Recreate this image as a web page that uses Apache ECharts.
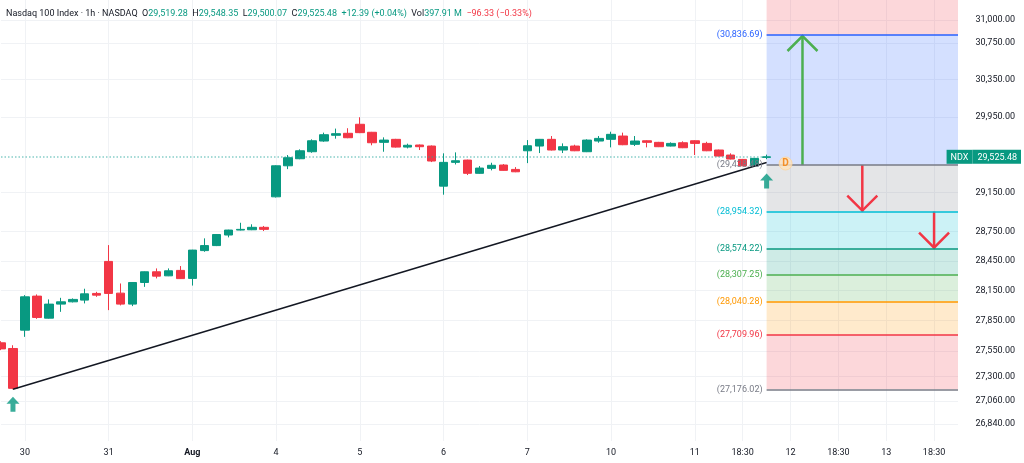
<!DOCTYPE html>
<html><head><meta charset="utf-8">
<script src="https://cdn.jsdelivr.net/npm/echarts@6/dist/echarts.min.js"></script>
<style>html,body{margin:0;padding:0;background:#fff}#c{width:1024px;height:463px}</style>
</head><body><div id="c"></div>
<script>
// ---------- data ----------
const xLabels = [
  '', '',
  '30', '', '', '', '', '', '',
  '31', '', '', '', '', '', '',
  'Aug', '', '', '', '', '', '',
  '4', '', '', '', '', '', '',
  '5', '', '', '', '', '', '',
  '6', '', '', '', '', '', '',
  '7', '', '', '', '', '', '',
  '10', '', '', '', '', '', '',
  '11', '', '', '', '18:30', '', '', '',
  '12', '', '', '', '18:30', '', '', '',
  '13', '', '', '', '18:30', '', ''
];
const open = [
  27630, 27574, 27755, 28094, 27874, 28014, 28037, 28054, 28121, 28444,
  28124, 28014, 28231, 28339, 28298, 28353, 28272, 28554, 28605, 28713,
  28764, 28767, 28792, 29107, 29431, 29505, 29579, 29692, 29753, 29774,
  29870, 29785, 29678, 29710, 29628, 29650, 29639, 29218, 29467, 29491,
  29352, 29404, 29439, 29393, 29589, 29639, 29710, 29597, 29639, 29579,
  29692, 29710, 29745, 29657, 29695, 29678, 29639, 29674, 29695, 29667,
  29597, 29544, 29498, 29431, 29519.28];
const close = [
  27570, 27185, 28087, 27881, 28014, 28037, 28061, 28117, 28104, 28121,
  28014, 28231, 28339, 28295, 28349, 28270, 28559, 28605, 28718, 28764,
  28771, 28792, 28771, 29431, 29516, 29589, 29695, 29759, 29770, 29727,
  29781, 29674, 29702, 29628, 29647, 29632, 29481, 29467, 29484, 29352,
  29407, 29436, 29383, 29368, 29642, 29710, 29597, 29632, 29589, 29702,
  29720, 29763, 29653, 29692, 29678, 29632, 29667, 29621, 29667, 29589,
  29533, 29502, 29431, 29509, 29525.48];
const low = [
  27558, 27176.02, 27689, 27867, 27870, 27937, 28031, 28021, 28087, 27954,
  28001, 27994, 28187, 28272, 28295, 28266, 28200, 28542, 28600, 28689,
  28760, 28763, 28754, 29100, 29396, 29500, 29568, 29684, 29717, 29722,
  29776, 29647, 29579, 29623, 29614, 29597, 29470, 29129, 29445, 29334,
  29348, 29383, 29380, 29364, 29459, 29565, 29592, 29565, 29585, 29575,
  29674, 29625, 29648, 29639, 29625, 29628, 29635, 29617, 29544, 29585,
  29530, 29498, 29428, 29428, 29500.07];
const high = [
  27646, 27606, 28104, 28111, 28061, 28077, 28071, 28168, 28137, 28610,
  28221, 28235, 28342, 28373, 28373, 28397, 28562, 28679, 28722, 28767,
  28839, 28823, 28806, 29436, 29544, 29604, 29710, 29781, 29824, 29828,
  29945, 29789, 29731, 29715, 29664, 29655, 29645, 29562, 29572, 29495,
  29428, 29463, 29449, 29417, 29702, 29714, 29745, 29667, 29653, 29710,
  29745, 29791, 29781, 29745, 29700, 29683, 29678, 29689, 29700, 29684,
  29601, 29562, 29502, 29512, 29548.35];

const priceTicks = [31000, 30750, 30350, 29950, 29150, 28750, 28450, 28150, 27850, 27550, 27300, 27060, 26840];
const yMin = 26679, yMax = 31224;
const lastPrice = 29525.48;
const symbolName = 'NDX';

// Fibonacci levels (2.618, 1.618, 1, 0.786, 0.618, 0.5, 0.382, 0.236, 0)
const fibLevels = [33099.14, 30836.69, 29438.48, 28954.32, 28574.22, 28307.25, 28040.28, 27709.96, 27176.02];
const fibColors = ['#f23645', '#2962ff', '#787b86', '#00bcd4', '#089981', '#4caf50', '#ff9800', '#f23645', '#787b86'];
const fibStartIdx = 64, fibEndIdx = 80;

const trendStart = [1, 27176.02];
const trendEnd = [64, 29465];

const arrowX = [67, 72, 78];
const arrowFrom = [29438.48, 29438.48, 28954.32];
const arrowTo = [30836.69, 28954.32, 28574.22];
const arrowColors = ['#4caf50', '#f23645', '#f23645'];

const signalMarks = [[1, 27031], [64, 29271]];
const dividendMark = [[65, 29455]];

const header = {
  name: 'Nasdaq 100 Index · 1h · NASDAQ',
  o: '29,519.28', h: '29,548.35', l: '29,500.07', c: '29,525.48',
  chg: '+12.39 (+0.04%)', vol: '397.91 M', chg2: '−96.33 (−0.33%)'
};

// ---------- chart ----------
const fmt = v => v.toLocaleString('en-US', {minimumFractionDigits: 2, maximumFractionDigits: 2});
const categories = xLabels.map((t, i) => i + '|' + t);
const ohlc = open.map((o, i) => [o, close[i], low[i], high[i]]);

const fibAreas = [];
for (let k = 0; k < fibLevels.length - 1; k++) {
  fibAreas.push([
    {xAxis: fibStartIdx, yAxis: fibLevels[k], itemStyle: {color: fibColors[k], opacity: 0.2}},
    {xAxis: fibEndIdx, yAxis: fibLevels[k + 1]}
  ]);
}
const fibLines = fibLevels.slice(1).map((v, j) => [
  {xAxis: fibStartIdx, yAxis: v, lineStyle: {color: fibColors[j + 1], width: 1.5, type: 'solid'},
   label: {show: true, position: 'start', distance: 4, formatter: '(' + fmt(v) + ')', color: fibColors[j + 1], fontSize: 9}},
  {xAxis: fibEndIdx, yAxis: v}
]);

const chart = echarts.init(document.getElementById('c'), null, {renderer: 'canvas'});
chart.setOption({
  animation: false,
  backgroundColor: '#ffffff',
  textStyle: {fontFamily: 'Roboto, "Liberation Sans", sans-serif'},
  title: {
    left: 1, top: 4,
    text: '{t|' + header.name + '}  {k|O}{v|' + header.o + '}  {k|H}{v|' + header.h + '}  {k|L}{v|' + header.l +
      '}  {k|C}{v|' + header.c + '}  {v|' + header.chg + '}  {k|Vol}{v|' + header.vol + '}  {r|' + header.chg2 + '}',
    textStyle: {
      fontSize: 9, fontWeight: 'normal', color: '#131722',
      rich: {
        t: {fontSize: 9, color: '#131722'},
        k: {fontSize: 9, color: '#131722'},
        v: {fontSize: 9, color: '#089981'},
        r: {fontSize: 9, color: '#f23645'}
      }
    }
  },
  grid: {left: 1, top: 0, width: 958, height: 441},
  xAxis: {
    type: 'category', data: categories, boundaryGap: false,
    axisLine: {show: false}, axisTick: {show: false},
    axisLabel: {
      interval: (i) => xLabels[i] !== '', margin: 7, fontSize: 9, color: '#131722',
      formatter: v => { const t = v.split('|')[1]; return t === 'Aug' ? '{b|Aug}' : t; },
      rich: {b: {fontWeight: 'bold', fontSize: 9, color: '#131722'}}
    },
    splitLine: {show: true, interval: (i) => xLabels[i] !== '', lineStyle: {color: '#f0f2f5', width: 1}}
  },
  yAxis: [{
    type: 'log', position: 'right', min: yMin, max: yMax,
    axisLine: {show: false},
    axisTick: {show: false, customValues: priceTicks},
    axisLabel: {customValues: priceTicks, formatter: v => fmt(v), fontSize: 9, color: '#131722', align: 'right', margin: 57},
    splitLine: {show: true, lineStyle: {color: '#f0f2f5', width: 1}}
  }, {
    type: 'log', position: 'right', min: yMin, max: yMax, z: 10,
    axisLine: {show: false}, axisTick: {show: false}, splitLine: {show: false},
    axisLabel: {
      customValues: [lastPrice], align: 'right', margin: 63,
      formatter: v => '{a|' + symbolName + '}{b|' + fmt(lastPrice) + '}',
      rich: {
        a: {backgroundColor: '#089981', color: '#fff', fontSize: 9, padding: [3, 4, 2, 4], borderColor: '#089981'},
        b: {backgroundColor: '#089981', color: '#fff', fontSize: 9, padding: [3, 4, 2, 5]}
      }
    }
  }],
  series: [
    {
      type: 'line', data: [], z: 1, silent: true,
      markArea: {silent: true, data: fibAreas},
      markLine: {
        symbol: ['none', 'none'], silent: true,
        data: fibLines.concat([[
          {xAxis: 0, yAxis: lastPrice, lineStyle: {color: '#26a69a', width: 1.5, type: [1.5, 2], opacity: 0.55}, label: {show: false}},
          {xAxis: fibStartIdx, yAxis: lastPrice}
        ]])
      }
    },
    {
      type: 'candlestick', data: ohlc, z: 2, barWidth: 9,
      itemStyle: {color: '#089981', color0: '#f23645', borderColor: '#089981', borderColor0: '#f23645', borderWidth: 1}
    },
    {
      type: 'line', data: [], z: 3, silent: true,
      markLine: {
        symbol: ['none', 'none'], silent: true,
        label: {show: false},
        data: [[{xAxis: trendStart[0], yAxis: trendStart[1], lineStyle: {color: '#131722', width: 1.5, type: 'solid'}},
                {xAxis: trendEnd[0], yAxis: trendEnd[1]}]]
      }
    },
    {
      type: 'custom', z: 4, silent: true,
      data: arrowX.map((x, i) => [x, arrowFrom[i], arrowTo[i]]),
      renderItem: (params, api) => {
        const x = api.value(0), y0 = api.value(1), y1 = api.value(2);
        const p0 = api.coord([x, y0]), p1 = api.coord([x, y1]);
        const dir = p1[1] < p0[1] ? 1 : -1;
        const c = arrowColors[params.dataIndex];
        return {
          type: 'group', children: [
            {type: 'line', shape: {x1: p0[0], y1: p0[1], x2: p1[0], y2: p1[1]}, style: {stroke: c, lineWidth: 2.5}},
            {type: 'polyline', shape: {points: [[p1[0] - 15, p1[1] + dir * 16], [p1[0], p1[1] + dir * 1], [p1[0] + 15, p1[1] + dir * 16]]},
             style: {stroke: c, lineWidth: 2.5, fill: null}}
          ]
        };
      }
    },
    {
      type: 'scatter', z: 5, silent: true, data: signalMarks,
      symbol: 'path://M6.5,0 L13,7 L9,7 L9,15 L4,15 L4,7 L0,7 Z', symbolSize: [13, 15],
      itemStyle: {color: '#089981'}
    },
    {
      type: 'scatter', z: 5, silent: true, data: dividendMark,
      symbol: 'circle', symbolSize: 13, symbolOffset: [7, 0],
      itemStyle: {color: '#ffe3bd', borderColor: '#ffd49a', borderWidth: 1},
      label: {show: true, position: 'inside', formatter: 'D', color: '#f57c00', fontSize: 10, fontWeight: 'bold'}
    }
  ]
});
</script></body></html>
